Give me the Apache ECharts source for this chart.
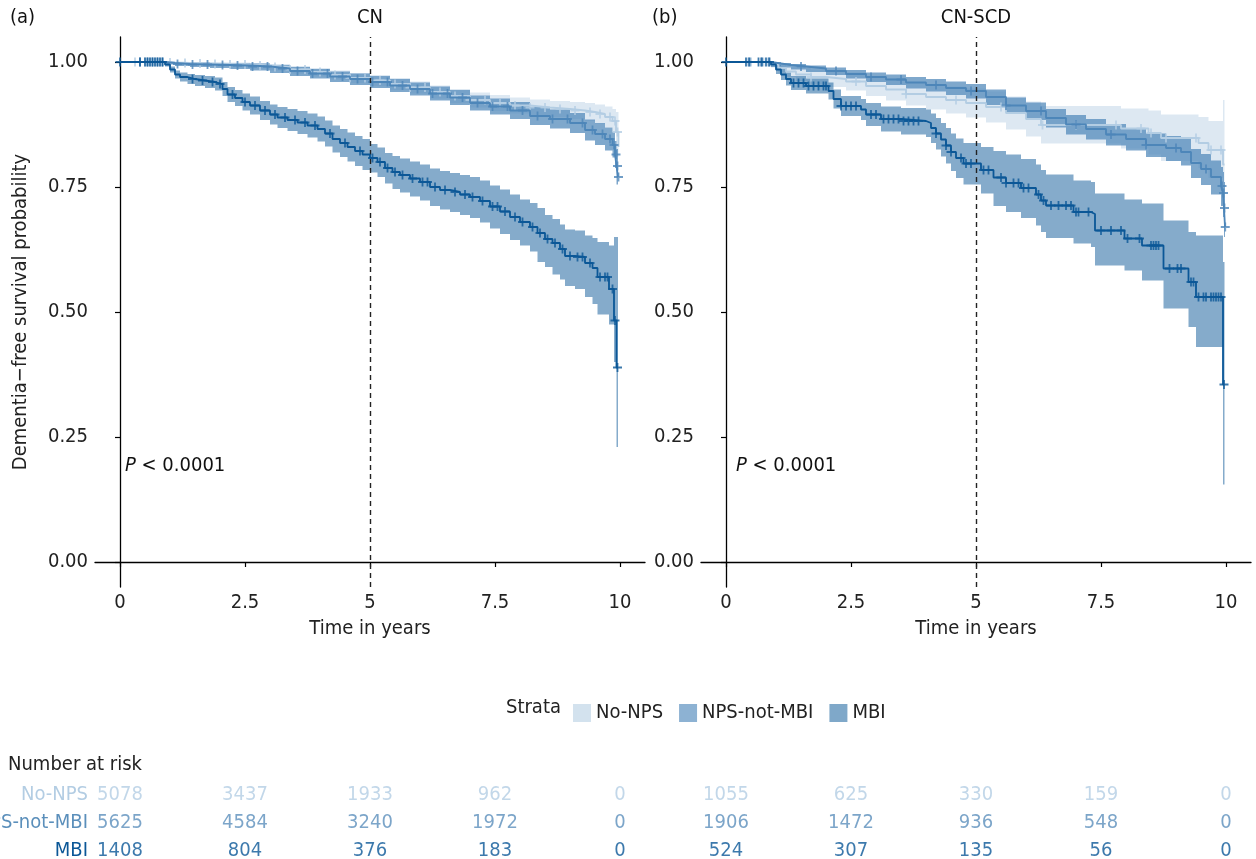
<!DOCTYPE html>
<html>
<head>
<meta charset="utf-8">
<script src="https://cdn.jsdelivr.net/npm/echarts@6/dist/echarts.min.js"></script>
<style>
  html, body { margin: 0; padding: 0; background: #fff; }
  #chart { width: 1256px; height: 859px; }
</style>
</head>
<body>
<div id="chart"></div>
<script>
// ---- panel (a) CN : Kaplan-Meier steps ----
const cnNoNpsTime  = [0, 0.9, 1.1, 1.4, 1.8, 2.2, 2.6, 3.0, 3.4, 3.8, 4.2, 4.6, 5.0, 5.4, 5.8, 6.2, 6.6, 7.0, 7.4, 7.8, 8.2, 8.6, 9.0, 9.3, 9.5, 9.7, 9.85, 9.92, 9.97];
const cnNoNpsSurv  = [1, 0.999, 0.998, 0.997, 0.996, 0.995, 0.993, 0.990, 0.985, 0.980, 0.974, 0.968, 0.963, 0.956, 0.949, 0.940, 0.932, 0.924, 0.918, 0.913, 0.909, 0.906, 0.903, 0.900, 0.896, 0.890, 0.882, 0.860, 0.830];
const cnNoNpsLower = [1, 0.997, 0.995, 0.993, 0.991, 0.989, 0.987, 0.983, 0.977, 0.971, 0.965, 0.958, 0.952, 0.944, 0.937, 0.927, 0.918, 0.909, 0.902, 0.897, 0.893, 0.890, 0.886, 0.882, 0.877, 0.869, 0.858, 0.810, 0.700];
const cnNoNpsUpper = [1, 1, 1, 1, 0.999, 0.999, 0.998, 0.996, 0.992, 0.988, 0.983, 0.978, 0.974, 0.968, 0.961, 0.953, 0.946, 0.939, 0.934, 0.929, 0.925, 0.922, 0.920, 0.918, 0.915, 0.911, 0.906, 0.900, 0.885];
const cnNoNpsCensor = [0.3, 0.5, 0.6, 0.7, 0.8, 1.0, 1.3, 1.6, 1.9, 2.2, 2.5, 2.8, 3.1, 3.4, 3.7, 4.0, 4.3, 4.6, 4.9, 5.2, 5.5, 5.8, 6.1, 6.4, 6.7, 7.0, 7.3, 7.6, 7.9, 8.2, 8.5, 8.8, 9.1, 9.4, 9.6, 9.8, 9.9, 9.95];

const cnNpsTime  = [0, 0.9, 1.1, 1.4, 1.8, 2.2, 2.6, 3.0, 3.4, 3.8, 4.2, 4.6, 5.0, 5.4, 5.8, 6.2, 6.6, 7.0, 7.4, 7.8, 8.2, 8.6, 9.0, 9.3, 9.5, 9.7, 9.85, 9.9, 9.93, 9.96];
const cnNpsSurv  = [1, 0.998, 0.996, 0.995, 0.994, 0.993, 0.991, 0.987, 0.982, 0.977, 0.971, 0.966, 0.960, 0.953, 0.946, 0.937, 0.929, 0.918, 0.911, 0.903, 0.892, 0.886, 0.878, 0.864, 0.856, 0.846, 0.834, 0.815, 0.792, 0.770];
const cnNpsLower = [1, 0.995, 0.992, 0.990, 0.988, 0.986, 0.983, 0.978, 0.972, 0.967, 0.960, 0.954, 0.948, 0.940, 0.933, 0.923, 0.914, 0.903, 0.895, 0.886, 0.874, 0.867, 0.858, 0.843, 0.834, 0.823, 0.809, 0.788, 0.755, 0.715];
const cnNpsUpper = [1, 1, 0.999, 0.999, 0.998, 0.998, 0.997, 0.994, 0.990, 0.986, 0.981, 0.977, 0.972, 0.966, 0.959, 0.951, 0.944, 0.933, 0.927, 0.920, 0.910, 0.905, 0.898, 0.885, 0.878, 0.869, 0.859, 0.842, 0.826, 0.812];
const cnNpsCensor = [0.4, 0.55, 0.65, 0.75, 0.85, 1.15, 1.45, 1.75, 2.05, 2.35, 2.65, 2.95, 3.25, 3.55, 3.85, 4.15, 4.45, 4.75, 5.05, 5.35, 5.65, 5.95, 6.25, 6.55, 6.85, 7.15, 7.45, 7.75, 8.05, 8.35, 8.65, 8.95, 9.25, 9.45, 9.65, 9.8, 9.88, 9.92, 9.95, 9.97];

const cnMbiTime  = [0, 0.9, 1.0, 1.1, 1.2, 1.35, 1.5, 1.7, 1.9, 2.05, 2.15, 2.3, 2.45, 2.6, 2.8, 3.0, 3.15, 3.35, 3.55, 3.75, 3.95, 4.1, 4.25, 4.4, 4.55, 4.7, 4.85, 5.0, 5.15, 5.3, 5.45, 5.6, 5.8, 6.0, 6.2, 6.4, 6.6, 6.8, 7.0, 7.2, 7.4, 7.6, 7.8, 8.0, 8.2, 8.35, 8.5, 8.65, 8.8, 8.9, 9.1, 9.3, 9.45, 9.55, 9.78, 9.88, 9.93, 9.96];
const cnMbiSurv  = [1, 0.995, 0.985, 0.975, 0.970, 0.966, 0.963, 0.960, 0.956, 0.946, 0.935, 0.928, 0.920, 0.913, 0.903, 0.895, 0.889, 0.884, 0.879, 0.873, 0.866, 0.857, 0.846, 0.838, 0.830, 0.822, 0.815, 0.808, 0.800, 0.788, 0.780, 0.774, 0.767, 0.760, 0.750, 0.744, 0.740, 0.735, 0.730, 0.722, 0.711, 0.701, 0.690, 0.680, 0.670, 0.658, 0.646, 0.638, 0.626, 0.612, 0.610, 0.598, 0.588, 0.570, 0.546, 0.483, 0.389, 0.389];
const cnMbiLower = [1, 0.991, 0.979, 0.967, 0.961, 0.956, 0.952, 0.948, 0.943, 0.932, 0.920, 0.912, 0.903, 0.895, 0.884, 0.875, 0.868, 0.862, 0.856, 0.849, 0.841, 0.831, 0.819, 0.810, 0.801, 0.792, 0.784, 0.779, 0.770, 0.757, 0.746, 0.739, 0.731, 0.723, 0.712, 0.705, 0.700, 0.694, 0.688, 0.679, 0.667, 0.656, 0.644, 0.633, 0.621, 0.600, 0.590, 0.575, 0.565, 0.552, 0.546, 0.530, 0.516, 0.495, 0.475, 0.400, 0.230, 0.230];
const cnMbiUpper = [1, 0.999, 0.991, 0.983, 0.979, 0.976, 0.974, 0.972, 0.969, 0.960, 0.950, 0.944, 0.937, 0.931, 0.922, 0.915, 0.910, 0.906, 0.902, 0.897, 0.891, 0.883, 0.873, 0.866, 0.859, 0.852, 0.846, 0.836, 0.829, 0.818, 0.812, 0.807, 0.801, 0.795, 0.787, 0.782, 0.778, 0.774, 0.770, 0.763, 0.753, 0.745, 0.735, 0.725, 0.718, 0.708, 0.694, 0.686, 0.675, 0.665, 0.663, 0.653, 0.648, 0.640, 0.633, 0.650, 0.650, 0.650];
const cnMbiCensor = [0, 0.4, 0.5, 0.55, 0.6, 0.65, 0.7, 0.75, 0.8, 0.85, 1.45, 1.65, 1.85, 2.0, 2.25, 2.5, 2.7, 2.9, 3.1, 3.3, 3.5, 3.7, 3.9, 4.2, 4.5, 4.8, 5.05, 5.2, 5.35, 5.5, 5.65, 5.85, 6.05, 6.15, 6.3, 6.5, 6.7, 6.9, 7.05, 7.25, 7.45, 7.55, 7.7, 7.9, 8.05, 8.25, 8.4, 8.55, 8.7, 8.85, 9.0, 9.15, 9.25, 9.4, 9.6, 9.7, 9.75, 9.85, 9.9, 9.95];

// ---- panel (b) CN-SCD ----
const scdNoNpsTime  = [0, 0.9, 1.05, 1.2, 1.4, 1.7, 2.0, 2.4, 2.8, 3.2, 3.6, 4.0, 4.4, 4.8, 5.2, 5.6, 6.0, 6.3, 7.9, 8.45, 8.7, 9.45, 9.65, 9.94, 9.97];
const scdNoNpsSurv  = [1, 0.995, 0.988, 0.981, 0.975, 0.970, 0.966, 0.961, 0.952, 0.945, 0.936, 0.930, 0.924, 0.918, 0.910, 0.898, 0.886, 0.874, 0.867, 0.858, 0.848, 0.838, 0.824, 0.795, 0.795];
const scdNoNpsLower = [1, 0.989, 0.979, 0.970, 0.962, 0.955, 0.950, 0.943, 0.932, 0.923, 0.913, 0.905, 0.897, 0.889, 0.879, 0.865, 0.851, 0.837, 0.827, 0.815, 0.802, 0.788, 0.768, 0.700, 0.700];
const scdNoNpsUpper = [1, 1, 0.996, 0.991, 0.988, 0.985, 0.982, 0.979, 0.972, 0.967, 0.959, 0.955, 0.951, 0.947, 0.941, 0.931, 0.921, 0.912, 0.907, 0.903, 0.895, 0.890, 0.882, 0.924, 0.924];
const scdNoNpsCensor = [0.5, 0.75, 1.7, 2.6, 3.6, 4.6, 5.5, 6.33, 7.0, 7.8, 8.3, 8.5, 8.8, 9.4, 9.7, 9.9];

const scdNpsTime  = [0, 0.9, 1.1, 1.3, 1.6, 2.0, 2.4, 2.8, 3.2, 3.6, 4.0, 4.4, 4.8, 5.2, 5.6, 6.0, 6.4, 6.8, 7.2, 7.6, 8.0, 8.4, 8.8, 9.1, 9.3, 9.5, 9.7, 9.9, 9.94, 9.96, 9.98];
const scdNpsSurv  = [1, 0.997, 0.994, 0.991, 0.987, 0.982, 0.976, 0.970, 0.965, 0.959, 0.954, 0.948, 0.942, 0.930, 0.913, 0.902, 0.888, 0.875, 0.866, 0.855, 0.846, 0.834, 0.828, 0.820, 0.798, 0.786, 0.770, 0.752, 0.738, 0.708, 0.670];
const scdNpsLower = [1, 0.993, 0.989, 0.985, 0.980, 0.974, 0.967, 0.960, 0.954, 0.947, 0.941, 0.934, 0.927, 0.914, 0.896, 0.884, 0.869, 0.855, 0.845, 0.833, 0.823, 0.810, 0.802, 0.793, 0.768, 0.754, 0.735, 0.712, 0.690, 0.650, 0.600];
const scdNpsUpper = [1, 1, 0.998, 0.996, 0.993, 0.989, 0.984, 0.979, 0.975, 0.970, 0.966, 0.961, 0.956, 0.945, 0.929, 0.919, 0.906, 0.894, 0.886, 0.876, 0.868, 0.857, 0.852, 0.846, 0.826, 0.816, 0.803, 0.790, 0.780, 0.760, 0.740];
const scdNpsCensor = [0.45, 0.7, 0.85, 1.5, 2.2, 2.9, 3.5, 4.2, 4.9, 5.6, 6.3, 7.0, 7.7, 8.4, 9.0, 9.6, 9.92, 9.95, 9.97, 9.985];

const scdMbiTime  = [0, 0.9, 1.0, 1.1, 1.2, 1.3, 1.6, 2.05, 2.15, 2.3, 2.7, 2.8, 3.1, 3.5, 4.0, 4.1, 4.2, 4.3, 4.4, 4.5, 4.6, 4.75, 5.1, 5.35, 5.6, 5.9, 6.2, 6.3, 6.4, 6.95, 7.3, 7.38, 7.97, 8.32, 8.75, 9.25, 9.4, 9.94, 9.97];
const scdMbiSurv  = [1, 0.995, 0.985, 0.975, 0.966, 0.958, 0.952, 0.942, 0.926, 0.912, 0.905, 0.895, 0.886, 0.882, 0.878, 0.868, 0.857, 0.845, 0.833, 0.820, 0.808, 0.797, 0.784, 0.769, 0.758, 0.748, 0.735, 0.723, 0.713, 0.700, 0.696, 0.663, 0.647, 0.633, 0.587, 0.560, 0.530, 0.355, 0.355];
const scdMbiLower = [1, 0.990, 0.976, 0.964, 0.953, 0.944, 0.937, 0.925, 0.907, 0.892, 0.884, 0.872, 0.861, 0.855, 0.850, 0.838, 0.825, 0.811, 0.797, 0.782, 0.768, 0.755, 0.737, 0.712, 0.700, 0.688, 0.673, 0.660, 0.648, 0.637, 0.630, 0.593, 0.583, 0.563, 0.507, 0.470, 0.430, 0.155, 0.155];
const scdMbiUpper = [1, 1, 0.994, 0.986, 0.979, 0.972, 0.967, 0.959, 0.945, 0.932, 0.926, 0.918, 0.911, 0.908, 0.905, 0.897, 0.888, 0.878, 0.868, 0.857, 0.847, 0.838, 0.830, 0.822, 0.815, 0.806, 0.795, 0.784, 0.775, 0.763, 0.760, 0.737, 0.725, 0.717, 0.683, 0.660, 0.653, 0.600, 0.600];
const scdMbiCensor = [0, 0.4, 0.47, 0.65, 0.72, 0.8, 0.87, 1.35, 1.45, 1.55, 1.65, 1.75, 1.85, 1.95, 2.0, 2.3, 2.4, 2.5, 2.6, 2.9, 3.0, 3.15, 3.25, 3.35, 3.45, 3.55, 3.65, 3.75, 3.85, 4.2, 4.4, 4.5, 4.7, 4.8, 4.9, 5.15, 5.25, 5.5, 5.6, 5.75, 5.85, 5.95, 6.05, 6.25, 6.35, 6.5, 6.65, 6.8, 6.9, 7.0, 7.05, 7.25, 7.5, 7.7, 7.9, 8.03, 8.27, 8.5, 8.55, 8.6, 8.65, 8.87, 9.03, 9.1, 9.3, 9.35, 9.45, 9.55, 9.6, 9.7, 9.75, 9.8, 9.85, 9.9, 9.96];

// ---- number at risk ----
const strataNames = ['No-NPS', 'NPS-not-MBI', 'MBI'];
const riskTimes = [0, 2.5, 5, 7.5, 10];
const riskCnNoNps = [5078, 3437, 1933, 962, 0];
const riskCnNps   = [5625, 4584, 3240, 1972, 0];
const riskCnMbi   = [1408, 804, 376, 183, 0];
const riskScdNoNps = [1055, 625, 330, 159, 0];
const riskScdNps   = [1906, 1472, 936, 548, 0];
const riskScdMbi   = [524, 307, 135, 56, 0];

const xTicks = [0, 2.5, 5, 7.5, 10];
const yTicks = [0, 0.25, 0.5, 0.75, 1];

const FONT = '"DejaVu Sans Condensed", "Liberation Sans Narrow", sans-serif';
const FS = 20;
const lineColors = ['#b3cde3', '#4d86b9', '#0b5797'];
const textColors = ['#b3cde3', '#5b8fbb', '#0b5797'];
const bandColors = ['rgba(179,205,227,0.45)', 'rgba(77,134,185,0.72)', 'rgba(11,87,151,0.5)'];
const keyColors = ['#d3e2ee', '#8db2d3', '#7fa8c9'];
const crossPath = 'path://M4,0H6V4H10V6H6V10H4V6H0V4H4Z';

function survAt(times, surv, c) {
  let v = surv[0];
  for (let i = 0; i < times.length; i++) {
    if (times[i] <= c + 1e-9) v = surv[i]; else break;
  }
  return v;
}

function bandSeries(gi, times, lower, upper, color) {
  const rows = times.map((t, i) => [t, lower[i], upper[i]]);
  return {
    type: 'custom', xAxisIndex: gi, yAxisIndex: gi, silent: true, z: 1,
    data: rows, encode: { x: 0, y: [1, 2] }, clip: true,
    renderItem: function (params, api) {
      if (params.dataIndex !== 0) return null;
      const top = [], bottom = [];
      for (let i = 0; i < rows.length; i++) {
        const tn = i < rows.length - 1 ? rows[i + 1][0] : rows[i][0];
        top.push(api.coord([rows[i][0], rows[i][2]]), api.coord([tn, rows[i][2]]));
        bottom.push(api.coord([rows[i][0], rows[i][1]]), api.coord([tn, rows[i][1]]));
      }
      return { type: 'polygon', shape: { points: top.concat(bottom.reverse()) }, style: { fill: color } };
    }
  };
}

const panels = [
  [
    [cnNoNpsTime, cnNoNpsSurv, cnNoNpsLower, cnNoNpsUpper, cnNoNpsCensor],
    [cnNpsTime, cnNpsSurv, cnNpsLower, cnNpsUpper, cnNpsCensor],
    [cnMbiTime, cnMbiSurv, cnMbiLower, cnMbiUpper, cnMbiCensor]
  ],
  [
    [scdNoNpsTime, scdNoNpsSurv, scdNoNpsLower, scdNoNpsUpper, scdNoNpsCensor],
    [scdNpsTime, scdNpsSurv, scdNpsLower, scdNpsUpper, scdNpsCensor],
    [scdMbiTime, scdMbiSurv, scdMbiLower, scdMbiUpper, scdMbiCensor]
  ]
];
const risks = [[riskCnNoNps, riskCnNps, riskCnMbi], [riskScdNoNps, riskScdNps, riskScdMbi]];

const series = [];
panels.forEach(function (strata, gi) {
  strata.forEach(function (s, k) {
    series.push(bandSeries(gi, s[0], s[2], s[3], bandColors[k]));
  });
  strata.forEach(function (s, k) {
    const line = {
      name: strataNames[k], type: 'line', step: 'end', xAxisIndex: gi, yAxisIndex: gi,
      symbol: 'none', z: 3 + k, silent: true,
      lineStyle: { color: lineColors[k], width: 1.8 }, itemStyle: { color: lineColors[k] },
      data: s[0].map((t, i) => [t, s[1][i]])
    };
    if (k === 2) {
      line.markLine = {
        silent: true, symbol: 'none', label: { show: false },
        lineStyle: { color: '#222', type: [5, 4], width: 1.4 },
        data: [{ xAxis: 5 }]
      };
    }
    series.push(line);
    series.push({
      type: 'scatter', xAxisIndex: gi, yAxisIndex: gi, symbol: crossPath, symbolSize: 9,
      z: 3 + k, silent: true, itemStyle: { color: lineColors[k] },
      data: s[4].map(c => [c, survAt(s[0], s[1], c)])
    });
  });
  // number at risk rows
  risks[gi].forEach(function (counts, k) {
    series.push({
      type: 'scatter', xAxisIndex: gi + 2, yAxisIndex: gi + 2, symbolSize: 1, silent: true,
      itemStyle: { color: 'rgba(0,0,0,0)' },
      label: { show: true, position: 'inside', formatter: p => String(p.value[2]),
        color: textColors[k], fontSize: FS, fontFamily: FONT },
      data: riskTimes.map((t, i) => [t, strataNames[k], counts[i]])
    });
  });
});

function gridBox(left, top, width, height) {
  return { left: left, top: top, width: width, height: height, containLabel: false, outerBoundsMode: 'none' };
}
const grids = [
  gridBox(95, 37, 550, 550),
  gridBox(701, 37, 550, 550),
  gridBox(95, 781, 550, 84),
  gridBox(701, 781, 550, 84)
];

const axisText = { fontSize: FS, fontFamily: FONT, color: '#222' };
function kmX(gi) {
  return {
    type: 'value', gridIndex: gi, min: -0.5, max: 10.5,
    axisLine: { show: true, lineStyle: { color: '#000', width: 1.3 } },
    axisTick: { show: true, customValues: xTicks, length: 5, lineStyle: { color: '#000', width: 1.2 } },
    axisLabel: Object.assign({ customValues: xTicks, margin: 6, formatter: v => String(v) }, axisText),
    splitLine: { show: false },
    name: 'Time in years', nameLocation: 'middle', nameGap: 32,
    nameTextStyle: { fontSize: FS, fontFamily: FONT, color: '#222' }
  };
}
function kmY(gi) {
  const ax = {
    type: 'value', gridIndex: gi, min: -0.05, max: 1.05,
    axisLine: { show: true, lineStyle: { color: '#000', width: 1.3 } },
    axisTick: { show: true, customValues: yTicks, length: 5, lineStyle: { color: '#000', width: 1.2 } },
    axisLabel: Object.assign({ customValues: yTicks, margin: 7, formatter: v => v.toFixed(2) }, axisText),
    splitLine: { show: false }
  };
  if (gi === 0) {
    ax.name = 'Dementia\u2212free survival probability';
    ax.nameLocation = 'middle';
    ax.nameGap = 64;
    ax.nameTextStyle = { fontSize: FS, fontFamily: FONT, color: '#222' };
  }
  return ax;
}
function riskX(gi) {
  return { type: 'value', gridIndex: gi, min: -0.5, max: 10.5, show: false };
}
function riskY(gi) {
  return {
    type: 'category', gridIndex: gi, data: strataNames, inverse: true,
    axisLine: { show: false }, axisTick: { show: false }, splitLine: { show: false },
    axisLabel: {
      show: gi === 2, interval: 0, margin: 7, fontSize: FS, fontFamily: FONT,
      formatter: function (v, i) { return '{s' + i + '|' + v + '}'; },
      rich: {
        s0: { color: textColors[0], fontSize: FS, fontFamily: FONT },
        s1: { color: textColors[1], fontSize: FS, fontFamily: FONT },
        s2: { color: textColors[2], fontSize: FS, fontFamily: FONT }
      }
    }
  };
}

function label(x, y, text, align, extra) {
  return {
    type: 'text', x: x, y: y, z: 10,
    style: Object.assign({ text: text, fontSize: FS, fontFamily: FONT, fill: '#111', align: align, verticalAlign: 'middle' }, extra || {})
  };
}
const pRich = { rich: { i: { fontStyle: 'italic', fontSize: FS, fontFamily: FONT, fill: '#111' } } };

const chart = echarts.init(document.getElementById('chart'));
chart.setOption({
  animation: false,
  backgroundColor: '#fff',
  textStyle: { fontFamily: FONT },
  grid: grids,
  xAxis: [kmX(0), kmX(1), riskX(2), riskX(3)],
  yAxis: [kmY(0), kmY(1), riskY(2), riskY(3)],
  legend: {
    left: 568, top: 698, itemWidth: 18, itemHeight: 18, itemGap: 16, selectedMode: false,
    textStyle: { fontSize: FS, fontFamily: FONT, color: '#222' },
    data: strataNames.map((n, k) => ({ name: n, icon: 'rect', itemStyle: { color: keyColors[k] } }))
  },
  graphic: [
    label(10, 18, '(a)', 'left'),
    label(652, 18, '(b)', 'left'),
    label(370, 18, 'CN', 'center'),
    label(976, 18, 'CN-SCD', 'center'),
    label(125, 466, '{i|P} < 0.0001', 'left', pRich),
    label(736, 466, '{i|P} < 0.0001', 'left', pRich),
    label(506, 708, 'Strata', 'left', { fill: '#222' }),
    label(8, 765, 'Number at risk', 'left', { fill: '#222' })
  ],
  series: series
});
</script>
</body>
</html>
